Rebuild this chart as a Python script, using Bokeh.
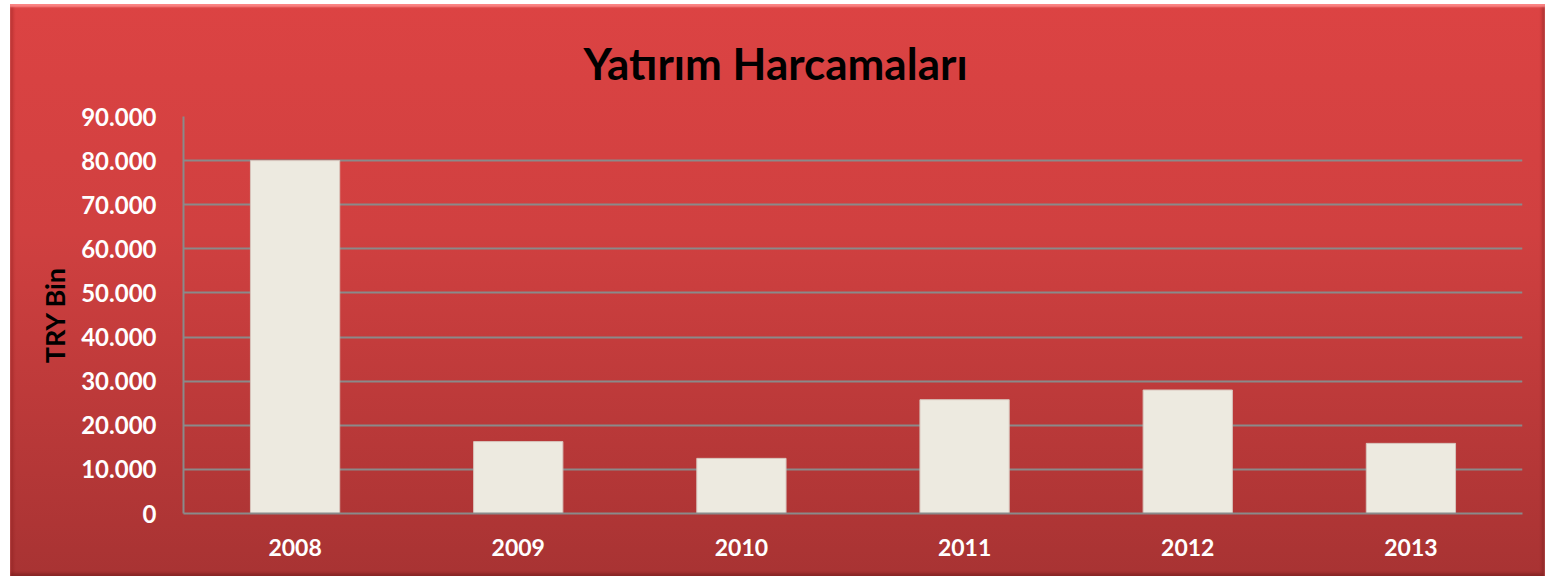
from bokeh.plotting import figure
from bokeh.models import FixedTicker, Title
from bokeh.embed import file_html
from bokeh.resources import INLINE

years = ["2008", "2009", "2010", "2011", "2012", "2013"]
values = [80000, 16300, 12500, 25800, 28000, 15900]
y_ticks = [0, 10000, 20000, 30000, 40000, 50000, 60000, 70000, 80000, 90000]
y_tick_labels = ["0", "10.000", "20.000", "30.000", "40.000", "50.000",
                 "60.000", "70.000", "80.000", "90.000"]

FONT = "Lato"

p = figure(x_range=years, y_range=(0, 90000), width=1535, height=572,
           output_backend="svg", toolbar_location=None,
           min_border_left=173, min_border_right=23,
           min_border_top=112, min_border_bottom=63)

p.background_fill_alpha = 0
p.border_fill_alpha = 0
p.outline_line_color = None
p.styles = {
    "margin-left": "10px",
    "margin-top": "4px",
    "background": "linear-gradient(180deg, #dc4343 0%, #d04040 40%, #a83333 100%)",
    "box-shadow": "inset 0 3px 2px rgba(255,140,140,0.9), inset 3px 0 3px rgba(120,20,20,0.35), inset -3px -3px 3px rgba(90,20,20,0.35)",
}

p.vbar(x=years, top=values, width=0.4, fill_color="#edeae0",
       line_color="#d8c4bc", line_width=1)

t = Title(text="Yatırım Harcamaları", align="left", offset=400,
          vertical_align="top", text_line_height=0.7,
          text_font=FONT, text_font_size="44px", text_font_style="bold",
          text_color="#000000", standoff=52)
p.add_layout(t, "above")

# y axis
yax = p.yaxis[0]
yax.ticker = FixedTicker(ticks=y_ticks)
yax.major_label_overrides = {tk: lb for tk, lb in zip(y_ticks, y_tick_labels)}
yax.major_label_text_font = FONT
yax.major_label_text_font_size = "24px"
yax.major_label_text_font_style = "bold"
yax.major_label_text_color = "#ffffff"
yax.major_tick_line_color = None
yax.minor_tick_line_color = None
yax.major_label_standoff = 21
yax.axis_line_color = "#8a8a8a"
yax.axis_line_width = 2
yax.axis_label = "TRY Bin"
yax.axis_label_text_font = FONT
yax.axis_label_text_font_size = "27px"
yax.axis_label_text_font_style = "bold"
yax.axis_label_text_color = "#000000"
yax.axis_label_standoff = 7

# x axis
xax = p.xaxis[0]
xax.major_label_text_font = FONT
xax.major_label_text_font_size = "23px"
xax.major_label_text_font_style = "bold"
xax.major_label_text_color = "#ffffff"
xax.major_tick_line_color = None
xax.axis_line_color = "#8a8a8a"
xax.axis_line_width = 2
xax.major_label_standoff = 19

p.xgrid.grid_line_color = None
p.ygrid.grid_line_color = "#8a8a8a"
p.ygrid.grid_line_width = 2

open("out.html", "w").write(file_html(p, INLINE))
